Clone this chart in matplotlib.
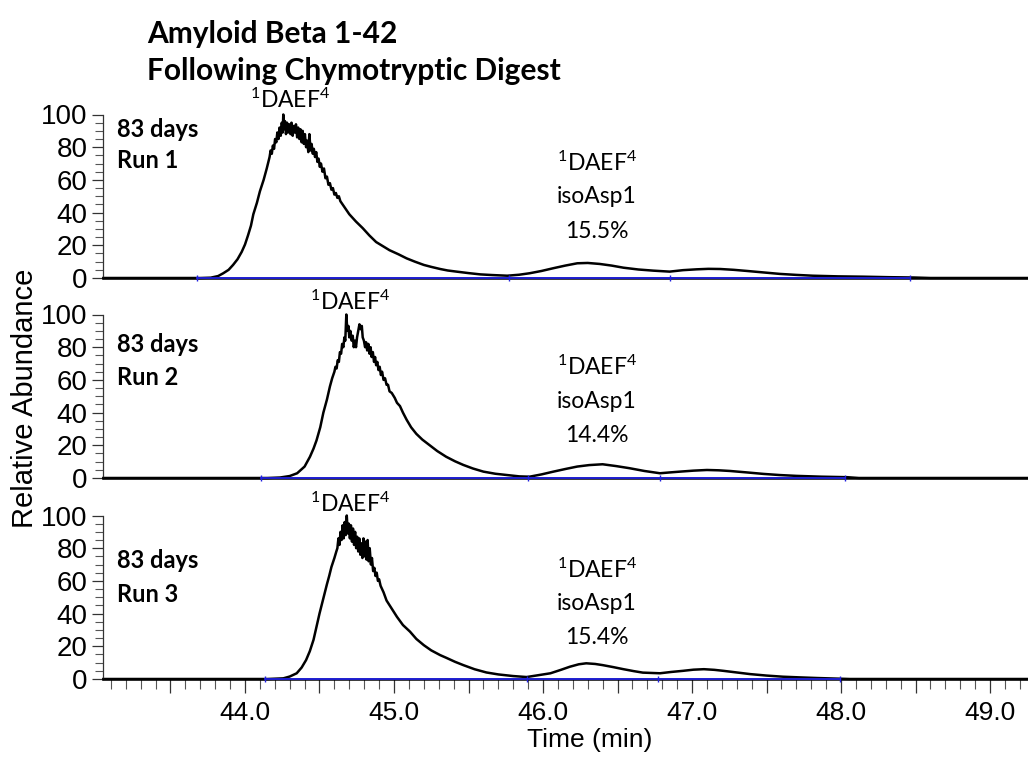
import matplotlib.pyplot as plt
from matplotlib.ticker import MultipleLocator, FuncFormatter

plt.rcParams['font.family'] = ['Lato', 'DejaVu Sans']
plt.rcParams['mathtext.fontset'] = 'custom'
plt.rcParams['mathtext.rm'] = 'Lato'
plt.rcParams['mathtext.it'] = 'Lato:italic'
plt.rcParams['mathtext.bf'] = 'Lato:bold'

# (time, relative abundance)
run1 = [(43.05, 0), (43.70, 0), (43.77, 0.2), (43.82, 1.2), (43.854, 2.9), (43.89, 5),
        (43.92, 8), (43.95, 11.5), (43.978, 16), (44.00, 20.5), (44.02, 26), (44.04, 32),
        (44.056, 39), (44.08, 46), (44.10, 53), (44.125, 60), (44.146, 67), (44.165, 74),
        (44.172, 78), (44.18, 76), (44.187, 81), (44.195, 79), (44.202, 85), (44.21, 83),
        (44.217, 89), (44.225, 85), (44.232, 92), (44.24, 87), (44.247, 95), (44.253, 89),
        (44.257, 100), (44.262, 91), (44.268, 96), (44.275, 88), (44.282, 95), (44.29, 89),
        (44.297, 94), (44.305, 88), (44.312, 95), (44.32, 87), (44.327, 93), (44.335, 89),
        (44.342, 94), (44.35, 86), (44.357, 92), (44.365, 85), (44.372, 91), (44.38, 83),
        (44.387, 90), (44.395, 82), (44.402, 88), (44.41, 80), (44.417, 84), (44.425, 77),
        (44.432, 88), (44.44, 78), (44.447, 82), (44.455, 76), (44.462, 79), (44.47, 74),
        (44.478, 77), (44.486, 71), (44.494, 73), (44.502, 68), (44.51, 70), (44.52, 65),
        (44.53, 67), (44.54, 61), (44.55, 62), (44.56, 57), (44.57, 58), (44.58, 54),
        (44.59, 55), (44.60, 51), (44.61, 52), (44.62, 49), (44.63, 50), (44.64, 47),
        (44.67, 43), (44.70, 39), (44.745, 34.5), (44.79, 30.5), (44.835, 26), (44.88, 22),
        (44.925, 19.5), (44.97, 17), (45.03, 14.5), (45.085, 12), (45.14, 10), (45.20, 8),
        (45.25, 6.8), (45.31, 5.5), (45.36, 4.6), (45.42, 3.9), (45.50, 3.0), (45.58, 2.2),
        (45.66, 1.8), (45.76, 1.4), (45.84, 2.0), (45.91, 2.9), (45.99, 4.3), (46.07, 6),
        (46.15, 7.6), (46.23, 9), (46.30, 9.2), (46.38, 8.6), (46.46, 7.6), (46.54, 6.3),
        (46.64, 5.2), (46.74, 4.5), (46.85, 3.9), (46.94, 4.8), (47.03, 5.3), (47.11, 5.6),
        (47.19, 5.5), (47.28, 5.0), (47.37, 4.3), (47.48, 3.4), (47.59, 2.5), (47.70, 1.9),
        (47.81, 1.4), (47.98, 1.0), (48.15, 0.8), (48.32, 0.5), (48.49, 0.3), (48.60, 0),
        (49.26, 0)]

run2 = [(43.05, 0), (44.15, 0), (44.235, 0.3), (44.30, 1.2), (44.35, 2.9), (44.40, 7),
        (44.436, 13), (44.46, 18), (44.48, 23), (44.505, 31), (44.526, 40), (44.55, 48),
        (44.57, 56), (44.585, 61), (44.60, 65), (44.607, 68), (44.615, 67), (44.622, 72),
        (44.63, 71), (44.637, 77), (44.645, 76), (44.652, 82), (44.66, 80), (44.667, 86),
        (44.673, 84), (44.68, 100), (44.687, 90), (44.694, 93), (44.70, 86), (44.707, 90),
        (44.716, 84), (44.723, 87), (44.73, 80), (44.738, 84), (44.745, 80), (44.752, 86),
        (44.76, 90), (44.768, 94), (44.776, 91), (44.784, 93), (44.79, 86), (44.798, 84),
        (44.806, 80), (44.813, 83), (44.82, 78), (44.828, 82), (44.836, 76), (44.843, 80),
        (44.85, 74), (44.858, 77), (44.866, 71), (44.873, 74), (44.88, 69), (44.888, 71),
        (44.896, 66), (44.904, 68), (44.912, 63), (44.92, 65), (44.93, 60), (44.94, 61),
        (44.95, 57), (44.96, 57), (44.97, 53), (44.985, 52), (45.005, 49), (45.02, 46),
        (45.04, 44), (45.06, 40), (45.085, 35.6), (45.115, 31), (45.15, 27), (45.19, 23.5),
        (45.24, 20), (45.29, 16.5), (45.35, 13), (45.41, 10.2), (45.465, 8), (45.53, 5.8),
        (45.60, 3.9), (45.68, 2.6), (45.76, 1.8), (45.84, 1.0), (45.91, 0.8), (45.99, 2.2),
        (46.07, 3.9), (46.15, 5.5), (46.23, 7), (46.31, 7.9), (46.40, 8.4), (46.49, 7.3),
        (46.58, 6), (46.68, 4.3), (46.785, 2.9), (46.85, 3.4), (46.92, 3.9), (47.01, 4.5),
        (47.10, 4.9), (47.18, 4.7), (47.255, 4.3), (47.37, 3.4), (47.48, 2.5), (47.59, 1.8),
        (47.70, 1.3), (47.87, 0.8), (48.04, 0.5), (48.12, 0), (49.26, 0)]

run3 = [(43.05, 0), (44.15, 0), (44.257, 0.4), (44.30, 1.5), (44.347, 3.5), (44.38, 7),
        (44.41, 11.6), (44.435, 17), (44.46, 24), (44.48, 32), (44.50, 40), (44.525, 49),
        (44.55, 58), (44.565, 63), (44.58, 68.5), (44.60, 74), (44.613, 78), (44.62, 80),
        (44.627, 86), (44.634, 82), (44.641, 90), (44.648, 85), (44.655, 94), (44.662, 86),
        (44.669, 96), (44.676, 88), (44.683, 100), (44.69, 89), (44.697, 95), (44.704, 86),
        (44.711, 94), (44.718, 84), (44.725, 92), (44.732, 82), (44.739, 90), (44.746, 80),
        (44.753, 87), (44.76, 78), (44.767, 86), (44.774, 76), (44.781, 83), (44.788, 74),
        (44.795, 86), (44.802, 75), (44.809, 84), (44.816, 73), (44.823, 85), (44.83, 72),
        (44.837, 80), (44.845, 70), (44.852, 74), (44.86, 66), (44.868, 68), (44.876, 63),
        (44.884, 65), (44.892, 60), (44.90, 61), (44.91, 57), (44.93, 53), (44.95, 48),
        (44.985, 43), (45.02, 38), (45.06, 33), (45.107, 29), (45.15, 24.5), (45.20, 20.7),
        (45.25, 17.5), (45.31, 14.6), (45.35, 13), (45.41, 10.5), (45.465, 8.5), (45.54, 6),
        (45.62, 4), (45.70, 2.8), (45.80, 1.8), (45.89, 1.2), (45.96, 2.2), (46.05, 3.5),
        (46.12, 5.6), (46.18, 7.5), (46.24, 9), (46.29, 9.6), (46.35, 9.2), (46.40, 8.5),
        (46.47, 7.3), (46.54, 6), (46.61, 4.8), (46.67, 3.9), (46.785, 3.5), (46.86, 4.3),
        (46.94, 5), (47.01, 5.7), (47.08, 6), (47.15, 5.6), (47.21, 5), (47.30, 4),
        (47.39, 3), (47.50, 2.1), (47.61, 1.4), (47.72, 1.0), (47.84, 0.6), (47.95, 0.3),
        (48.06, 0), (49.26, 0)]

# integration baselines (blue) with their split points
base1 = [43.68, 45.77, 46.85, 48.46]
base2 = [44.11, 45.90, 46.785, 48.03]
base3 = [44.134, 45.89, 46.77, 47.99]

run_names = ['Run 1', 'Run 2', 'Run 3']
run_label_y = [(86.5, 67.5), (77.3, 57), (67.7, 47)]
main_peak_x = [44.30, 44.705, 44.705]
main_peak_y = [109, 108, 107]
iso_pct = ['15.5%', '14.4%', '15.4%']
iso_y = [(70.5, 49.7, 28.2), (68, 47, 26), (66.5, 46.3, 25.6)]
iso_x = 46.36

runs = [run1, run2, run3]
bases = [base1, base2, base3]

fig = plt.figure(figsize=(10.28, 7.59), dpi=100)
bottoms = [1 - 278 / 759, 1 - 478 / 759, 1 - 679 / 759]

for i in range(3):
    ax = fig.add_axes([103 / 1028, bottoms[i], 925 / 1028, 163.5 / 759])
    t = [p[0] for p in runs[i]]
    v = [p[1] for p in runs[i]]
    ax.plot(t, v, color='black', lw=1.8, clip_on=False, zorder=2)
    b = bases[i]
    ax.plot([b[0], b[-1]], [0, 0], color='#2020e0', lw=1.3, clip_on=False, zorder=3)
    ax.plot(b, [0] * len(b), ls='none', marker='|', ms=5, mew=1, color='#2020e0',
            clip_on=False, zorder=3)

    ax.set_xlim(43.047, 49.255)
    ax.set_ylim(0, 100)
    ax.spines['top'].set_visible(False)
    ax.spines['right'].set_visible(False)
    ax.spines['left'].set_bounds(0, 100)
    ax.spines['left'].set_linewidth(0.9)
    ax.spines['left'].set_color('#333333')
    ax.spines['bottom'].set_linewidth(1.8)
    ax.patch.set_visible(False)

    ax.set_yticks([0, 20, 40, 60, 80, 100])
    ax.yaxis.set_minor_locator(MultipleLocator(5))
    ax.tick_params(axis='y', which='major', length=8, width=0.9, color='#333333', pad=3)
    ax.tick_params(axis='y', which='minor', length=6, width=0.8, color='#555555')
    for lab in ax.get_yticklabels():
        lab.set_fontfamily('Liberation Sans')
        lab.set_fontsize(20)

    if i < 2:
        ax.set_xticks([])
    else:
        ax.xaxis.set_major_locator(MultipleLocator(0.5))
        ax.xaxis.set_minor_locator(MultipleLocator(0.1))
        ax.xaxis.set_major_formatter(FuncFormatter(
            lambda x, p: '%.1f' % x if abs(x - round(x)) < 0.01 else ''))
        ax.tick_params(axis='x', which='major', length=10, width=0.9, color='#333333', pad=6)
        ax.tick_params(axis='x', which='minor', length=7, width=0.8, color='#555555')
        for lab in ax.get_xticklabels():
            lab.set_fontfamily('Liberation Sans')
            lab.set_fontsize(19)

    ax.text(43.141, run_label_y[i][0], '83 days', fontsize=17, fontweight='bold', va='baseline')
    ax.text(43.141, run_label_y[i][1], run_names[i], fontsize=17, fontweight='bold',
            va='baseline')

    ax.text(main_peak_x[i], main_peak_y[i], r'$^{1}$DAEF$^{4}$', fontsize=16.5,
            ha='center', va='center', clip_on=False)
    ax.text(iso_x, iso_y[i][0], r'$^{1}$DAEF$^{4}$', fontsize=16.5, ha='center', va='center')
    ax.text(iso_x, iso_y[i][1], 'isoAsp1', fontsize=16.5, ha='center', va='center')
    ax.text(iso_x, iso_y[i][2], iso_pct[i], fontsize=16.5, ha='center', va='center')

fig.text(147 / 1028, 1 - 43 / 759, 'Amyloid Beta 1-42', fontsize=21.5, fontweight='bold',
         va='baseline', ha='left')
fig.text(147 / 1028, 1 - 80 / 759, 'Following Chymotryptic Digest', fontsize=21.5,
         fontweight='bold', va='baseline', ha='left')
fig.text(590 / 1028, 1 - 740 / 759, 'Time (min)', fontsize=19, family='Liberation Sans',
         ha='center', va='center')
fig.text(25 / 1028, 1 - 398 / 759, 'Relative Abundance', fontsize=21, family='Liberation Sans',
         rotation=90, ha='center', va='center')

fig.savefig('out.png', dpi=100)
